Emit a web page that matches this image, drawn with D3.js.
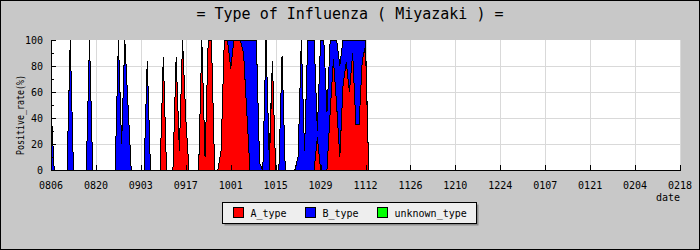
<!DOCTYPE html>
<html>
<head>
<meta charset="utf-8">
<script src="https://cdn.jsdelivr.net/npm/d3@7"></script>
<style>
  body { margin: 0; background: #c8c8c8; }
  text { font-family: 'DejaVu Sans Mono', monospace; fill: #000; }
</style>
</head>
<body>
<svg id="chart" width="700" height="250"></svg>
<script>
// ************************************************************************************** //

// x axis labels, one every 14 days from 0806
var tickLabels = ['0806','0820','0903','0917','1001','1015','1029','1112','1126','1210','1224','0107','0121','0204','0218'];
var yTicks = [0, 20, 40, 60, 80, 100];
var seriesNames = ['A_type', 'B_type', 'unknown_type'];
var seriesColors = ['#ff0000', '#0000ff', '#00ff00'];

// daily positive rate (%), day 0 = 0806
var aType = [
  0,0,0,0,0,0,0,0,0,0,
  0,0,0,0,0,0,0,0,0,0,
  0,0,0,0,0,0,0,0,0,0,
  0,0,0,0,0,87,0,0,0,87,
  15,100,40,0,0,0,0,100,10,100,
  100,0,0,15,100,100,78,100,100,100,
  90,45,0,0,0,0,0,0,0,84,
  0,0,0,0,0,0,0,0,0,0,
  0,0,0,25,0,0,0,45,85,50,
  10,65,83,60,90,35,35,85,95,0
];
var bType = [
  50,0,0,0,0,0,100,0,0,0,
  0,0,100,0,0,0,0,0,0,0,
  0,100,20,100,50,0,0,0,0,0,
  84,0,0,0,0,0,0,0,0,0,
  0,0,0,0,0,0,0,0,0,0,
  0,0,0,0,0,0,22,0,0,0,
  10,55,100,100,100,5,0,100,10,0,
  0,0,88,0,0,0,0,10,100,15,
  100,100,100,5,100,100,45,55,15,50,
  70,35,17,40,10,65,65,15,5,0
];
var unknownType = [
  0,0,0,0,0,0,0,0,0,0,
  0,0,0,0,0,0,0,0,0,0,
  0,0,0,0,0,0,0,0,0,0,
  0,0,0,0,0,0,0,0,0,0,
  0,0,0,0,0,0,0,0,0,0,
  0,0,0,0,0,0,0,0,0,0,
  0,0,0,0,0,0,0,0,0,0,
  0,0,0,0,0,0,0,0,0,0,
  0,0,0,0,0,0,0,0,0,0,
  0,0,0,0,0,0,0,0,0,0
];

var svg = d3.select('#chart');
var plotLeft = 51, plotRight = 680, plotTop = 40, plotBottom = 170;
var daysSpan = (tickLabels.length - 1) * 14;

var x = d3.scaleLinear().domain([0, daysSpan]).range([plotLeft, plotRight]);
var y = d3.scaleLinear().domain([0, 100]).range([plotBottom, plotTop]);

// Outer frame
svg.append('rect').attr('x', 0.5).attr('y', 0.5).attr('width', 699).attr('height', 249)
  .style('fill', '#c8c8c8').style('stroke', '#000');

// Plot background
svg.append('rect').attr('x', plotLeft).attr('y', plotTop).attr('width', plotRight - plotLeft).attr('height', plotBottom - plotTop)
  .style('fill', '#fff');

// Grid
var grid = svg.append('g').style('stroke', '#d9d9d9').style('shape-rendering', 'crispEdges');
yTicks.slice(1, -1).forEach(function(v){
  grid.append('line').attr('x1', plotLeft).attr('x2', plotRight).attr('y1', Math.round(y(v)) + 0.5).attr('y2', Math.round(y(v)) + 0.5);
});
tickLabels.forEach(function(lbl, i){
  if(i == 0){ return };
  var gx = Math.round(x(i*14)) + 0.5;
  grid.append('line').attr('x1', gx).attr('x2', gx).attr('y1', plotTop).attr('y2', plotBottom);
});

// Stacked areas (blocky, like the original raster chart)
var rows = aType.map(function(v, i){
  return { day: i, A_type: v, B_type: bType[i], unknown_type: unknownType[i] };
});
var stacked = d3.stack().keys(seriesNames)(rows);
var area = d3.area().x(function(d){ return x(d.data.day); })
  .y0(function(d){ return y(d[0]); }).y1(function(d){ return y(d[1]); });
var topLine = d3.line().x(function(d){ return x(d.data.day); }).y(function(d){ return y(d[1]); });

var layers = svg.append('g').style('shape-rendering', 'crispEdges');
stacked.forEach(function(s, k){
  layers.append('path').datum(s).attr('d', area)
    .style('fill', seriesColors[k]).style('stroke', 'none');
});
stacked.forEach(function(s){
  layers.append('path').datum(s).attr('d', topLine)
    .style('fill', 'none').style('stroke', '#000').style('stroke-width', 1);
});

// Axes
var axes = svg.append('g').style('stroke', '#000').style('shape-rendering', 'crispEdges');
axes.append('line').attr('x1', plotLeft + 0.5).attr('x2', plotLeft + 0.5).attr('y1', plotTop).attr('y2', plotBottom);
axes.append('line').attr('x1', plotLeft).attr('x2', plotRight + 1).attr('y1', plotBottom + 0.5).attr('y2', plotBottom + 0.5);
for(var v = 0; v <= 100; v += 10){
  var len = (v % 20 == 0) ? 5 : 3;
  axes.append('line').attr('x1', plotLeft).attr('x2', plotLeft + len).attr('y1', Math.round(y(v)) + 0.5).attr('y2', Math.round(y(v)) + 0.5);
}
tickLabels.forEach(function(lbl, i){
  var tx = Math.round(x(i*14)) + 0.5;
  axes.append('line').attr('x1', tx).attr('x2', tx).attr('y1', plotBottom - 5).attr('y2', plotBottom);
});

// Tick labels
yTicks.forEach(function(v){
  svg.append('text').attr('x', 43).attr('y', y(v) + 4).style('text-anchor', 'end').style('font-size', '10px').text(v);
});
tickLabels.forEach(function(lbl, i){
  svg.append('text').attr('x', x(i*14)).attr('y', 189).style('text-anchor', 'middle').style('font-size', '10px').text(lbl);
});

// Titles
svg.append('text').attr('x', 350).attr('y', 19).style('text-anchor', 'middle').style('font-size', '15px')
  .text('= Type of Influenza ( Miyazaki ) =');
svg.append('text').attr('transform', 'translate(24,115) rotate(-90)').style('text-anchor', 'middle')
  .style('font-size', '11px').attr('textLength', 80).attr('lengthAdjust', 'spacingAndGlyphs').text('Positive_rate(%)');
svg.append('text').attr('x', 680).attr('y', 201).style('text-anchor', 'end').style('font-size', '10px').text('date');

// Legend
var legend = svg.append('g').attr('transform', 'translate(222.5,202.5)');
legend.append('rect').attr('x', 2).attr('y', 2).attr('width', 254).attr('height', 21).style('fill', '#8c8c8c');
legend.append('rect').attr('width', 254).attr('height', 21).style('fill', '#eeeeee').style('stroke', '#000');
var legendX = [11, 83, 155];
seriesNames.forEach(function(name, k){
  legend.append('rect').attr('x', legendX[k]).attr('y', 5).attr('width', 10).attr('height', 10)
    .style('fill', seriesColors[k]).style('stroke', '#000');
  legend.append('text').attr('x', legendX[k] + 17).attr('y', 14).style('font-size', '10px').text(name);
});
</script>
</body>
</html>
